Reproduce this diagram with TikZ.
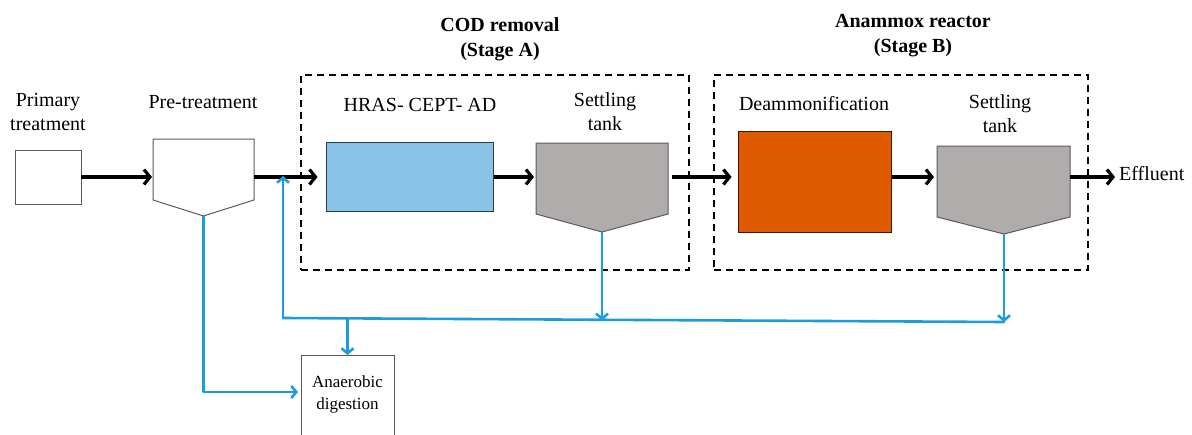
\documentclass[tikz,border=0pt]{standalone}
\usepackage{fontspec}
\setmainfont{Liberation Serif}
\newfontfamily\tnr{Liberation Serif}
\usetikzlibrary{arrows.meta}
\definecolor{hrasblue}{HTML}{89C4E8}
\definecolor{deamorange}{HTML}{E05A00}
\definecolor{tankgray}{HTML}{B1ACAC}
\definecolor{retblue}{HTML}{1B9DDB}
\definecolor{edgegray}{HTML}{5A5A5A}
\begin{document}
\begin{tikzpicture}[x=1pt,y=-1pt,
  txt/.style={font=\tnr\fontsize{20}{24}\selectfont, align=center, inner sep=0pt},
  ttl/.style={font=\tnr\fontsize{20}{25}\selectfont\bfseries, align=center, inner sep=0pt},
  plain/.style={draw=edgegray, line width=1pt, inner sep=0pt, outer sep=0pt},
  ghost/.style={inner sep=0pt, outer sep=0pt},
  stagebox/.style={draw=black, line width=1.8pt, dash pattern=on 7pt off 5pt, inner sep=0pt},
  blk/.style={line width=3.2pt, -{Straight Barb[length=6pt,width=15pt]}},
  ret/.style={draw=retblue, line width=2.6pt},
  reta/.style={ret, -{Straight Barb[length=5pt,width=12pt]}}]
\useasboundingbox (0,0) rectangle (1192,434);
\coordinate (flow) at (0,177);

% stage boxes
\node[stagebox, minimum width=388, minimum height=195] (dashA) at (495,172.5) {};
\node[stagebox, minimum width=374, minimum height=195] (dashB) at (901,172.5) {};
\node[ttl] (ttlA) at (500,39) {COD removal\\(Stage A)};
\node[ttl] (ttlB) at (913,36) {Anammox reactor\\(Stage B)};

% primary treatment
\node[plain, fill=white, minimum width=66, minimum height=54] (prim) at (48,177) {};
\node[txt] (lblPrim) at (48,112) {Primary\\treatment};

% pre-treatment
\node[ghost, minimum width=101, minimum height=61] (pre) at (203.5,169.5) {};
\coordinate (preTip) at (203.5,216);
\draw[draw=edgegray, line width=1pt, fill=white] (pre.north west) -- (pre.north east) -- (pre.south east) -- (preTip) -- (pre.south west) -- cycle;
\node[txt] (lblPre) at (203,102) {Pre-treatment};

% HRAS
\node[draw=black!70!hrasblue, line width=1pt, fill=hrasblue, minimum width=167, minimum height=69, inner sep=0pt] (hras) at (409.5,176.5) {};
\node[txt] (lblHras) at (420,105) {HRAS- CEPT- AD};

% settling tank A
\node[ghost, minimum width=132, minimum height=71] (sA) at (602,178.5) {};
\coordinate (sAtip) at (602,232);
\draw[draw=edgegray, line width=1pt, fill=tankgray] (sA.north west) -- (sA.north east) -- (sA.south east) -- (sAtip) -- (sA.south west) -- cycle;
\node[txt] (lblSA) at (605,112) {Settling\\tank};

% deammonification
\node[draw=black!75!deamorange, line width=1pt, fill=deamorange, minimum width=153, minimum height=101, inner sep=0pt] (deam) at (814.5,181.5) {};
\node[txt] (lblDeam) at (814,104) {Deammonification};

% settling tank B
\node[ghost, minimum width=133, minimum height=71] (sB) at (1003.5,181.5) {};
\coordinate (sBtip) at (1004,234);
\draw[draw=edgegray, line width=1pt, fill=tankgray] (sB.north west) -- (sB.north east) -- (sB.south east) -- (sBtip) -- (sB.south west) -- cycle;
\node[txt] (lblSB) at (1000,114) {Settling\\tank};

\node[txt, anchor=west] (eff) at (1119,174) {Effluent};

% anaerobic digestion
\node[plain, fill=white, minimum width=93, minimum height=100, anchor=north] (ad) at (347.5,355) {};
\node[font=\tnr\fontsize{17}{22}\selectfont, align=center, inner sep=0pt] (lblAd) at (347.5,394) {Anaerobic\\digestion};
\coordinate (adIn) at (301,392);

% main flow arrows
\draw[blk] (prim.east |- flow) -- ([xshift=-1pt]pre.west |- flow);
\draw[blk] (pre.east |- flow) -- ([xshift=-8pt]hras.west |- flow);
\draw[blk] (hras.east |- flow) -- ([xshift=-2pt]sA.west |- flow);
\draw[blk] ([xshift=4pt]sA.east |- flow) -- ([xshift=-6pt]deam.west |- flow);
\draw[blk] (deam.east |- flow) -- ([xshift=-3pt]sB.west |- flow);
\draw[blk] (sB.east |- flow) -- ([xshift=-4pt]eff.west |- flow);

% return / sludge lines
\coordinate (retL) at (283,318);
\coordinate (retR) at (1004,322);
\coordinate (retAD) at (347.5,318.3);
\draw[ret, line cap=round, line join=round] (retL) -- (retR);
\draw[reta] (sAtip) -- (602,320.3);
\draw[reta] (sBtip) -- (retR);
\draw[reta, line join=round] (retL |- retAD) -- ([yshift=1pt]retL |- flow);
\draw[reta] (retAD) -- (ad.north);
\draw[reta, line join=round] (preTip) -- (preTip |- adIn) -- ([xshift=-3pt]adIn);
\end{tikzpicture}
\end{document}
